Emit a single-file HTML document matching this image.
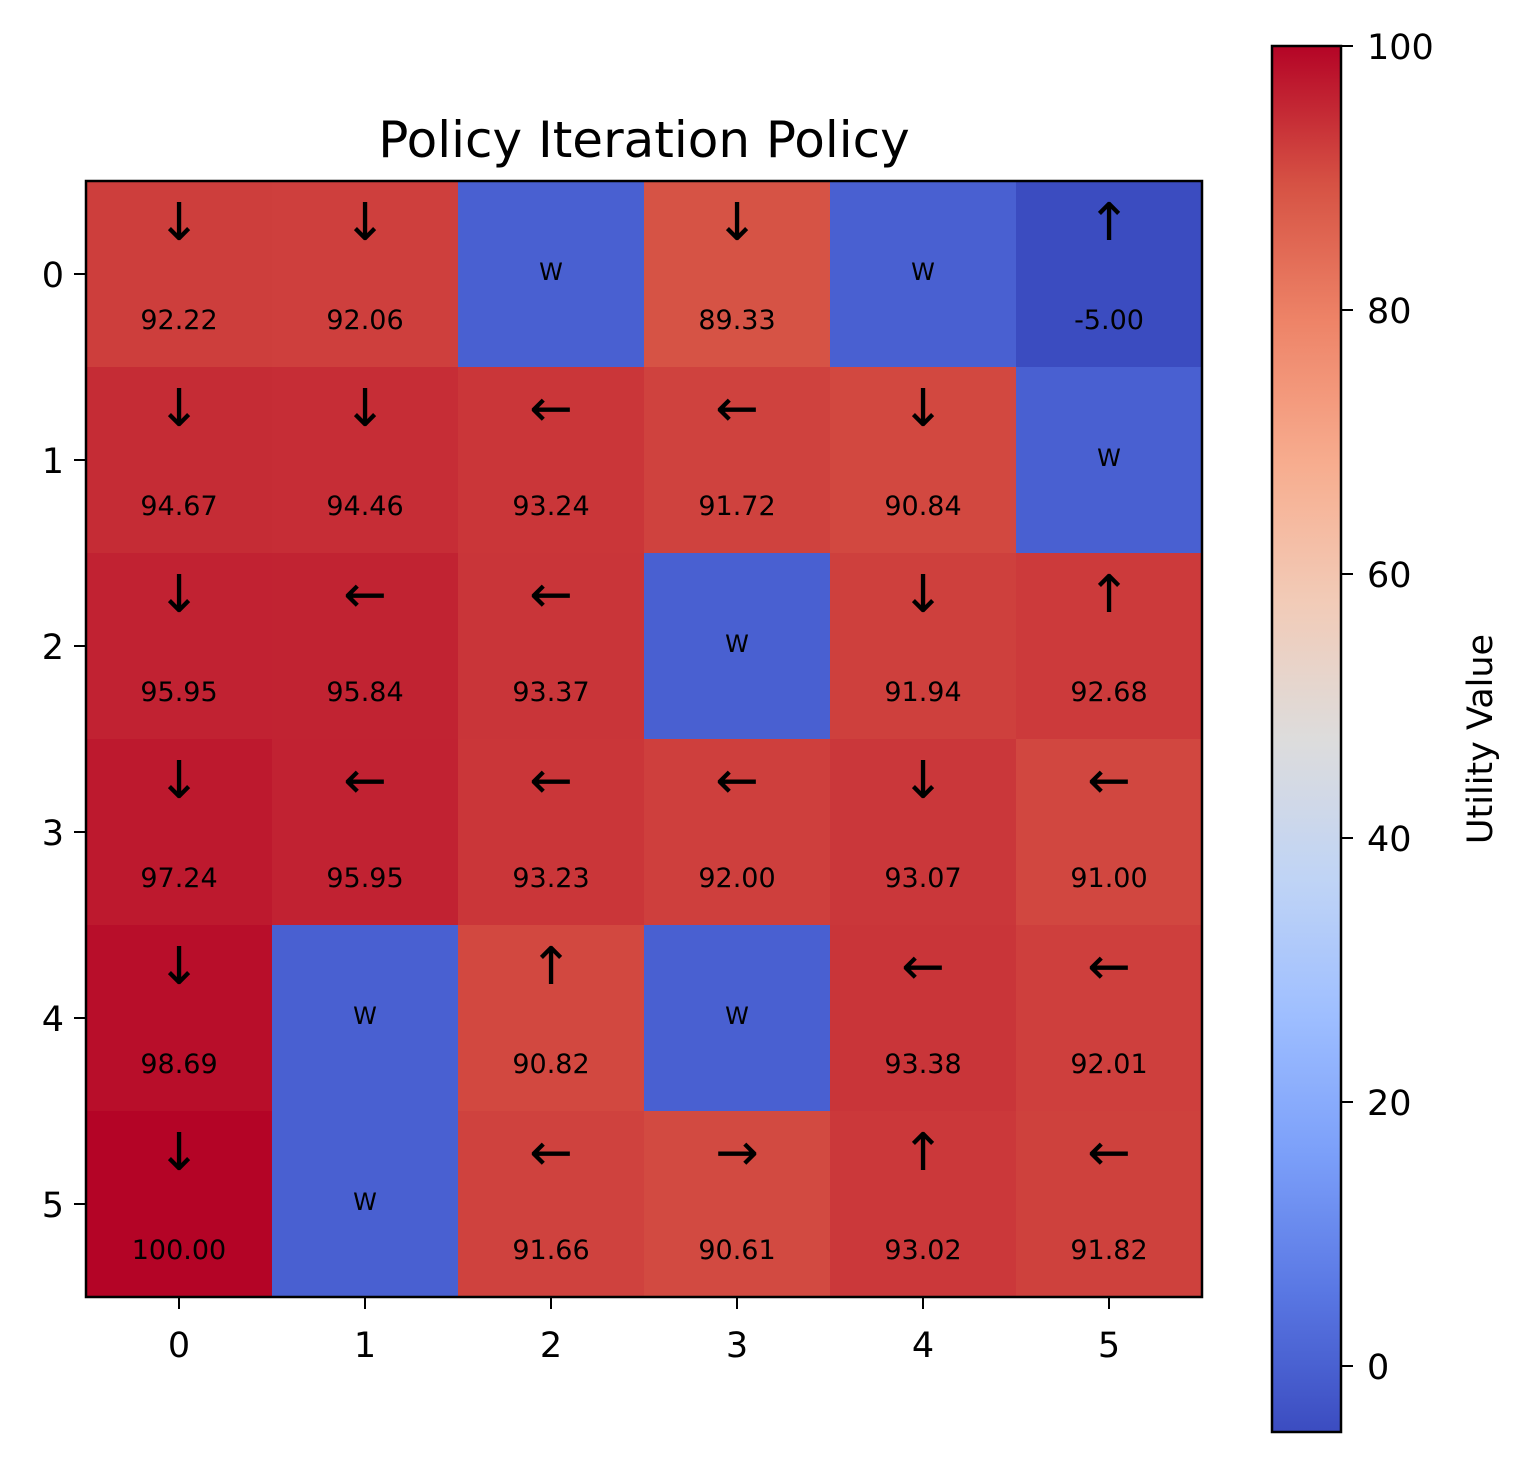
<!DOCTYPE html>
<html><head><meta charset="utf-8"><style>
body{margin:0;background:#fff;}
svg text{font-family:"DejaVu Sans","Liberation Sans",sans-serif;}
</style></head><body>
<svg id="chart" width="1538" height="1462" xmlns="http://www.w3.org/2000/svg">
<rect width="1538" height="1462" fill="#fff"/>
<text x="644" y="157" font-size="50" text-anchor="middle">Policy Iteration Policy</text>
<defs><linearGradient id="cbgrad" x1="0" y1="1" x2="0" y2="0"></linearGradient></defs>
<g id="cells"></g>
<g id="axes"></g>
<g id="cbar"></g>
</svg>
<script>
const rowLabels = ["0","1","2","3","4","5"];
const colLabels = ["0","1","2","3","4","5"];
// null = wall (W)
const utilities = [
 [92.22, 92.06, null, 89.33, null, -5.00],
 [94.67, 94.46, 93.24, 91.72, 90.84, null],
 [95.95, 95.84, 93.37, null, 91.94, 92.68],
 [97.24, 95.95, 93.23, 92.00, 93.07, 91.00],
 [98.69, null, 90.82, null, 93.38, 92.01],
 [100.00, null, 91.66, 90.61, 93.02, 91.82]
];
const policy = [
 ["↓","↓","","↓","","↑"],
 ["↓","↓","←","←","↓",""],
 ["↓","←","←","","↓","↑"],
 ["↓","←","←","←","↓","←"],
 ["↓","","↑","","←","←"],
 ["↓","","←","→","↑","←"]
];
const wallValue = 0;
const cbTicks = [0,20,40,60,80,100];
const vmin = -5, vmax = 100;

const NS="http://www.w3.org/2000/svg";
const X0=86, Y0=181, PW=1116, PH=1116;
const cell=PW/colLabels.length;
const xc=j=>X0+cell*(j+0.5), yc=i=>Y0+cell*(i+0.5);
const CBX=1272, CBW=69, CBT=46, CBB=1432;
const cy=v=>CBB-(v-vmin)/(vmax-vmin)*(CBB-CBT);

const cmap=[[59,76,192],[89,119,227],[123,159,249],[158,190,255],[192,212,245],[221,220,220],[242,203,183],[247,172,142],[238,132,104],[214,82,68],[180,4,38]];
function color(v){
 let t=(v-vmin)/(vmax-vmin); t=Math.max(0,Math.min(1,t));
 const p=t*10, k=Math.min(9,Math.floor(p)), f=p-k;
 const c=cmap[k].map((a,n)=>Math.round(a+(cmap[k+1][n]-a)*f));
 return `rgb(${c[0]},${c[1]},${c[2]})`;
}
function mk(tag,attrs,parent,txt){const e=document.createElementNS(NS,tag);for(const k in attrs)e.setAttribute(k,attrs[k]);if(txt!==undefined)e.textContent=txt;parent.appendChild(e);return e;}

const cells=document.getElementById('cells');
utilities.forEach((row,i)=>row.forEach((v,j)=>{
 const val=v===null?wallValue:v;
 const r=mk('rect',{x:X0+cell*j,y:Y0+cell*i,width:cell+0.5,height:cell+0.5,fill:color(val)},cells);
 
 
 if(v===null){
  const w=mk('text',{x:xc(j),y:yc(i)+6,'font-size':24,'text-anchor':'middle'},cells,'W');
  
  
 } else {
  const a=mk('text',{x:xc(j),y:yc(i)-34,'font-size':52,'text-anchor':'middle'},cells,policy[i][j]);
  
  
  const t=mk('text',{x:xc(j),y:yc(i)+55,'font-size':27,'text-anchor':'middle'},cells,v.toFixed(2));
  
  
 }
}));

const axes=document.getElementById('axes');
const frame=mk('rect',{x:X0,y:Y0,width:PW,height:PH,fill:'none',stroke:'#000','stroke-width':2.5},axes);


colLabels.forEach((l,j)=>{
 mk('line',{x1:xc(j),x2:xc(j),y1:Y0+PH,y2:Y0+PH+12,stroke:'#000','stroke-width':2},axes);
 const t=mk('text',{x:xc(j),y:Y0+PH+60,'font-size':35,'text-anchor':'middle'},axes,l);
 
 
});
rowLabels.forEach((l,i)=>{
 mk('line',{x1:X0-12,x2:X0,y1:yc(i),y2:yc(i),stroke:'#000','stroke-width':2},axes);
 const t=mk('text',{x:X0-22,y:yc(i)+13,'font-size':35,'text-anchor':'end'},axes,l);
 
 
});

const grad=document.getElementById('cbgrad');
for(let s=0;s<=40;s++){const v=vmin+(vmax-vmin)*s/40;mk('stop',{offset:(s/40),'stop-color':color(v)},grad);}
const cb=document.getElementById('cbar');
const bar=mk('rect',{x:CBX,y:CBT,width:CBW,height:CBB-CBT,fill:'url(#cbgrad)',stroke:'#000','stroke-width':2.5},cb);


cbTicks.forEach(v=>{
 mk('line',{x1:CBX+CBW,x2:CBX+CBW+12,y1:cy(v),y2:cy(v),stroke:'#000','stroke-width':2},cb);
 const t=mk('text',{x:CBX+CBW+26,y:cy(v)+13,'font-size':35},cb,String(v));
 
 
});
const lab=mk('text',{x:0,y:0,'font-size':35,'text-anchor':'middle',transform:`translate(1492,${(CBT+CBB)/2}) rotate(-90)`},cb,'Utility Value');


</script>
</body></html>
